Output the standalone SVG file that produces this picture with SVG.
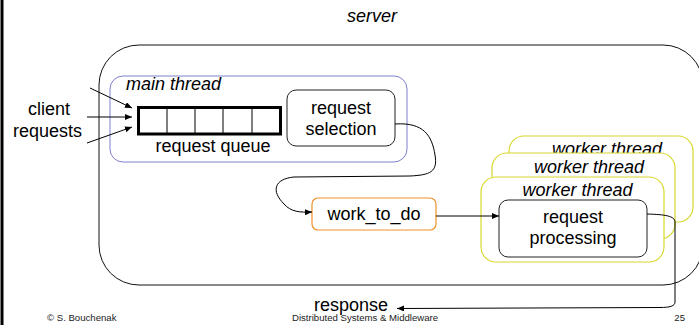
<svg xmlns="http://www.w3.org/2000/svg" width="699" height="325" viewBox="0 0 699 325">
<style>
text{font-family:"Liberation Sans",Arial,sans-serif;font-size:18px;fill:#000}
.it{font-style:italic}
.c{text-anchor:middle}
.ft{font-size:9.6px;fill:#222}
.box{fill:#fff;stroke:#222;stroke-width:1}
.wk{fill:#fff;stroke:#d8d830;stroke-width:1.2}
.con{fill:none;stroke:#000;stroke-width:1}
</style>
<defs>
<marker id="ah" markerUnits="userSpaceOnUse" markerWidth="7" markerHeight="6" refX="7" refY="3" orient="auto">
<path d="M0,0 L7,3 L0,6 z" fill="#000"/>
</marker>
</defs>
<rect x="0" y="0" width="699" height="325" fill="#fff"/>
<line x1="2" y1="0" x2="2" y2="325" stroke="#000" stroke-width="3"/>

<g id="server">
<rect x="99" y="45" width="604" height="240" rx="40" ry="40" fill="#fff" stroke="#111" stroke-width="1"/>
<text class="it c" x="372" y="22">server</text>
</g>

<g id="main-thread">
<rect x="110" y="76" width="297" height="86" rx="13" ry="13" fill="#fff" stroke="#7f7fcf" stroke-width="1"/>
<text class="it" x="126" y="90">main thread</text>
</g>

<g id="request-queue">
<rect x="138.5" y="107.5" width="142" height="26.5" fill="#fff" stroke="#000" stroke-width="3"/>
<line x1="167" y1="108" x2="167" y2="134" stroke="#000" stroke-width="1"/>
<line x1="195" y1="108" x2="195" y2="134" stroke="#000" stroke-width="1"/>
<line x1="223" y1="108" x2="223" y2="134" stroke="#000" stroke-width="1"/>
<line x1="252" y1="108" x2="252" y2="134" stroke="#000" stroke-width="1"/>
<text class="c" x="213" y="152">request queue</text>
</g>

<g id="request-selection">
<rect class="box" x="287" y="90" width="108" height="56" rx="9" ry="9"/>
<text class="c" x="341" y="114">request</text>
<text class="c" x="341" y="135">selection</text>
</g>

<g id="client-requests">
<text class="c" x="49" y="115">client</text>
<text class="c" x="47.5" y="137">requests</text>
</g>

<g id="work-to-do">
<rect x="312" y="198" width="124" height="32" rx="6" ry="6" fill="#fff" stroke="#f0902a" stroke-width="1.2"/>
<text class="c" x="374" y="220">work_to_do</text>
</g>

<g id="worker-3">
<rect class="wk" x="509" y="136" width="184" height="86" rx="15" ry="15"/>
<text class="it c" x="607" y="154.5">worker thread</text>
</g>
<g id="worker-2">
<rect class="wk" x="492" y="153" width="183" height="86" rx="15" ry="15"/>
<text class="it c" x="589" y="173">worker thread</text>
</g>
<g id="worker-1">
<rect class="wk" x="481" y="177" width="183" height="85" rx="15" ry="15"/>
<text class="it c" x="577.5" y="196">worker thread</text>
</g>

<g id="request-processing">
<rect class="box" x="499" y="200" width="148" height="57" rx="9" ry="9"/>
<text class="c" x="573" y="223">request</text>
<text class="c" x="573" y="244">processing</text>
</g>

<g id="response">
<text x="314" y="311">response</text>
</g>

<g id="connectors">
<line class="con" x1="90" y1="88" x2="132" y2="108" marker-end="url(#ah)"/>
<line class="con" x1="87" y1="117" x2="132" y2="117" marker-end="url(#ah)"/>
<line class="con" x1="87" y1="143" x2="132" y2="127" marker-end="url(#ah)"/>
<path class="con" d="M395,124 C424,122 432,136 435,155 C438,172 430,175 410,176 L294,177 C274,179 271,191 284,204 C291,212 300,212.5 312,212" marker-end="url(#ah)"/>
<line class="con" x1="436" y1="216" x2="499" y2="216" marker-end="url(#ah)"/>
<path class="con" d="M647,214 C665,214.5 675,216 675,222 L675,302 C675,306 670,307.5 660,307.5 L397,308.5" marker-end="url(#ah)"/>
</g>

<g id="footer">
<text class="ft" x="47" y="321">© S. Bouchenak</text>
<text class="ft" x="292" y="321">Distributed Systems &amp; Middleware</text>
<text class="ft" x="685" y="321" text-anchor="end">25</text>
</g>
</svg>
